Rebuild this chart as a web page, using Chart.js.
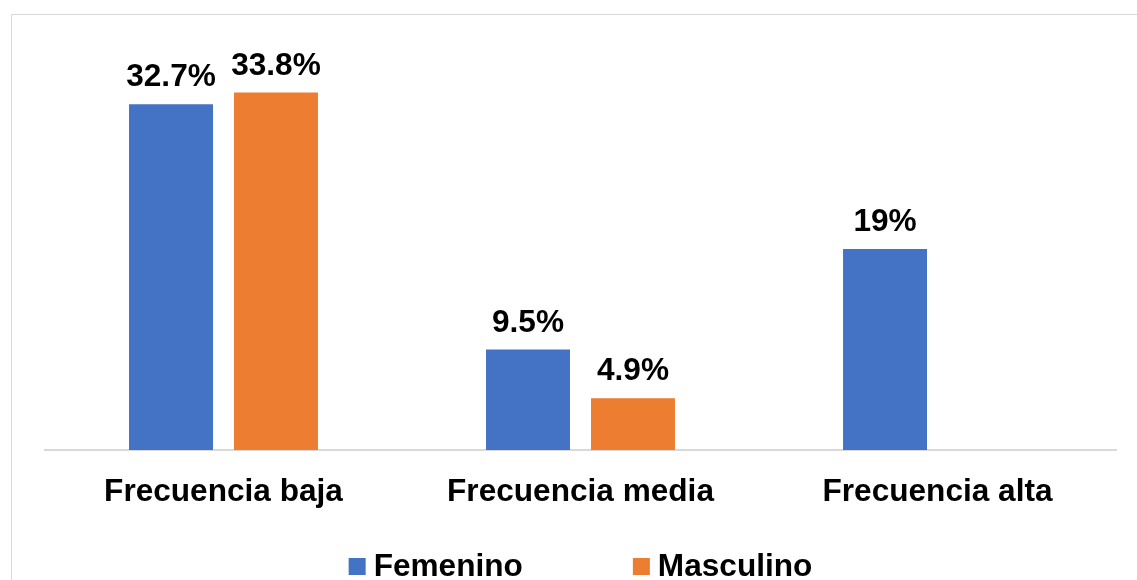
<!DOCTYPE html>
<html>
<head>
<meta charset="utf-8">
<script src="https://cdn.jsdelivr.net/npm/chart.js@4.4.1/dist/chart.umd.min.js"></script>
<style>
  html, body { margin: 0; padding: 0; background: #fff; overflow: hidden; }
  #frame {
    position: absolute; left: 11px; top: 14px;
    width: 1200px; height: 700px;
    border: 1px solid #d9d9d9;
  }
  #chart { position: absolute; left: 0; top: 0; }
</style>
</head>
<body>
<div id="frame"></div>
<canvas id="chart" width="1137" height="580"></canvas>
<script>
const categories = ["Frecuencia baja", "Frecuencia media", "Frecuencia alta"];
const femenino = [32.7, 9.5, 19];
const masculino = [33.8, 4.9, null];
const seriesNames = ["Femenino", "Masculino"];
const seriesColors = ["#4472C4", "#ED7D31"];

const FONT = "'Liberation Sans', Arial, sans-serif";
const FONT_SIZE = 31.6;

// value labels above each bar
const valueLabels = {
  id: "valueLabels",
  afterDatasetsDraw(chart) {
    const ctx = chart.ctx;
    ctx.save();
    ctx.font = "bold " + FONT_SIZE + "px " + FONT;
    ctx.fillStyle = "#000";
    ctx.textAlign = "center";
    ctx.textBaseline = "alphabetic";
    chart.data.datasets.forEach((ds, i) => {
      chart.getDatasetMeta(i).data.forEach((bar, j) => {
        const v = ds.data[j];
        if (v === null || v === undefined) return;
        ctx.fillText(v + "%", bar.x, bar.y - 18);
      });
    });
    ctx.restore();
  }
};

// legend drawn by hand so the box/text gaps match
const bottomLegend = {
  id: "bottomLegend",
  afterDraw(chart) {
    const ctx = chart.ctx;
    const area = chart.chartArea;
    ctx.save();
    ctx.font = "bold " + FONT_SIZE + "px " + FONT;
    const box = 17, gap = 8, spacing = 110;
    const widths = seriesNames.map(n => ctx.measureText(n).width);
    let total = 0;
    widths.forEach((w, i) => { total += box + gap + w + (i ? spacing : 0); });
    let x = (area.left + area.right) / 2 - total / 2;
    seriesNames.forEach((name, i) => {
      ctx.fillStyle = seriesColors[i];
      ctx.fillRect(x, 558, box, box);
      ctx.fillStyle = "#000";
      ctx.textBaseline = "alphabetic";
      ctx.fillText(name, x + box + gap, 576);
      x += box + gap + widths[i] + spacing;
    });
    ctx.restore();
  }
};

new Chart(document.getElementById("chart"), {
  type: "bar",
  data: {
    labels: categories,
    datasets: [
      { label: seriesNames[0], data: femenino, backgroundColor: seriesColors[0] },
      { label: seriesNames[1], data: masculino, backgroundColor: seriesColors[1] }
    ]
  },
  options: {
    responsive: false,
    devicePixelRatio: 1,
    animation: false,
    categoryPercentage: 0.588,
    barPercentage: 0.8,
    layout: { padding: { left: 45, right: 21, top: 27, bottom: 10 } },
    plugins: {
      legend: { display: false },
      tooltip: { enabled: false }
    },
    scales: {
      x: {
        grid: { display: false },
        border: { display: true, color: "#d9d9d9", width: 2 },
        ticks: {
          color: "#000",
          padding: 15,
          font: { family: FONT, size: FONT_SIZE, weight: "bold" }
        },
        afterFit(scale) { scale.height = 120; }
      },
      y: {
        display: false,
        min: 0,
        max: 40
      }
    }
  },
  plugins: [valueLabels, bottomLegend]
});
</script>
</body>
</html>
